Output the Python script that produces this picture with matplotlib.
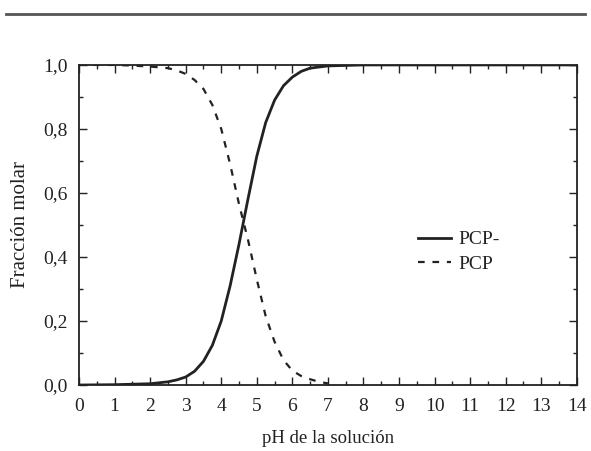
import numpy as np
import matplotlib.pyplot as plt
from matplotlib.lines import Line2D

# values
ph_ion = [0, 1, 2, 2.5, 2.75, 3, 3.25, 3.5, 3.75, 4, 4.25, 4.5, 4.75, 5, 5.25, 5.5, 5.75, 6, 6.25,
          6.5, 7, 8, 14]
frac_ion = [0, 0.001, 0.004, 0.01, 0.016, 0.025, 0.043, 0.074, 0.124, 0.2, 0.31, 0.44, 0.58, 0.715,
            0.82, 0.89, 0.935, 0.962, 0.98, 0.99, 0.997, 1.0, 1.0]

ph_neu = [0.4, 1, 1.5, 2, 2.5, 2.75, 3, 3.25, 3.5, 3.75, 4, 4.25, 4.5, 4.75, 5, 5.25, 5.5, 5.75, 6,
          6.25, 6.5, 6.75, 7]
frac_neu = [1.0, 1.0, 0.998, 0.995, 0.99, 0.983, 0.972, 0.953, 0.925, 0.875, 0.80, 0.69, 0.565,
            0.455, 0.33, 0.215, 0.135, 0.078, 0.045, 0.028, 0.018, 0.01, 0.005]

xticks = list(range(0, 15))
yticks = [0.0, 0.2, 0.4, 0.6, 0.8, 1.0]
ytick_labels = ["0,0", "0,2", "0,4", "0,6", "0,8", "1,0"]

plt.rcParams['font.family'] = ['Liberation Serif', 'DejaVu Serif']
ink = '#222222'

fig = plt.figure(figsize=(5.91, 4.51), dpi=100)
ax = fig.add_axes([0.1337, 0.1463, 0.8423, 0.7097])

ax.plot(ph_ion, frac_ion, color=ink, lw=2.0, label='PCP-')
ax.plot(ph_neu, frac_neu, color=ink, lw=1.6, ls=(0, (3, 3.5)), label='PCP')

ax.set_xlim(0, 14)
ax.set_ylim(0, 1.0)
ax.set_xticks(xticks)
ax.set_xticks(np.arange(0.5, 14, 1), minor=True)
ax.set_yticks(yticks)
ax.set_yticklabels(ytick_labels)
ax.set_yticks(np.arange(0.1, 1.0, 0.2), minor=True)
ax.tick_params(which='both', direction='in', top=True, right=True, color=ink,
               labelsize=14, labelcolor=ink)
ax.tick_params(axis='x', pad=9)
ax.tick_params(axis='y', pad=8)
ax.tick_params(which='major', length=6, width=1)
ax.tick_params(which='minor', length=3, width=1)
for s in ax.spines.values():
    s.set_color(ink)
    s.set_linewidth(1.3)

ax.set_xlabel('pH de la solución', fontsize=13.5, color=ink, labelpad=11)
ax.set_ylabel('Fracción molar', fontsize=15, color=ink, labelpad=10)

ax.legend(loc='center left', bbox_to_anchor=(0.645, 0.416), frameon=False,
          fontsize=14, handlelength=1.7, handletextpad=0.4,
          labelspacing=0.35, labelcolor=ink)

# rule at top of the page
fig.add_artist(Line2D([0.01, 0.99], [0.968, 0.968], color='#555555', lw=2.0,
                      transform=fig.transFigure))

fig.savefig('out.png', dpi=100)
